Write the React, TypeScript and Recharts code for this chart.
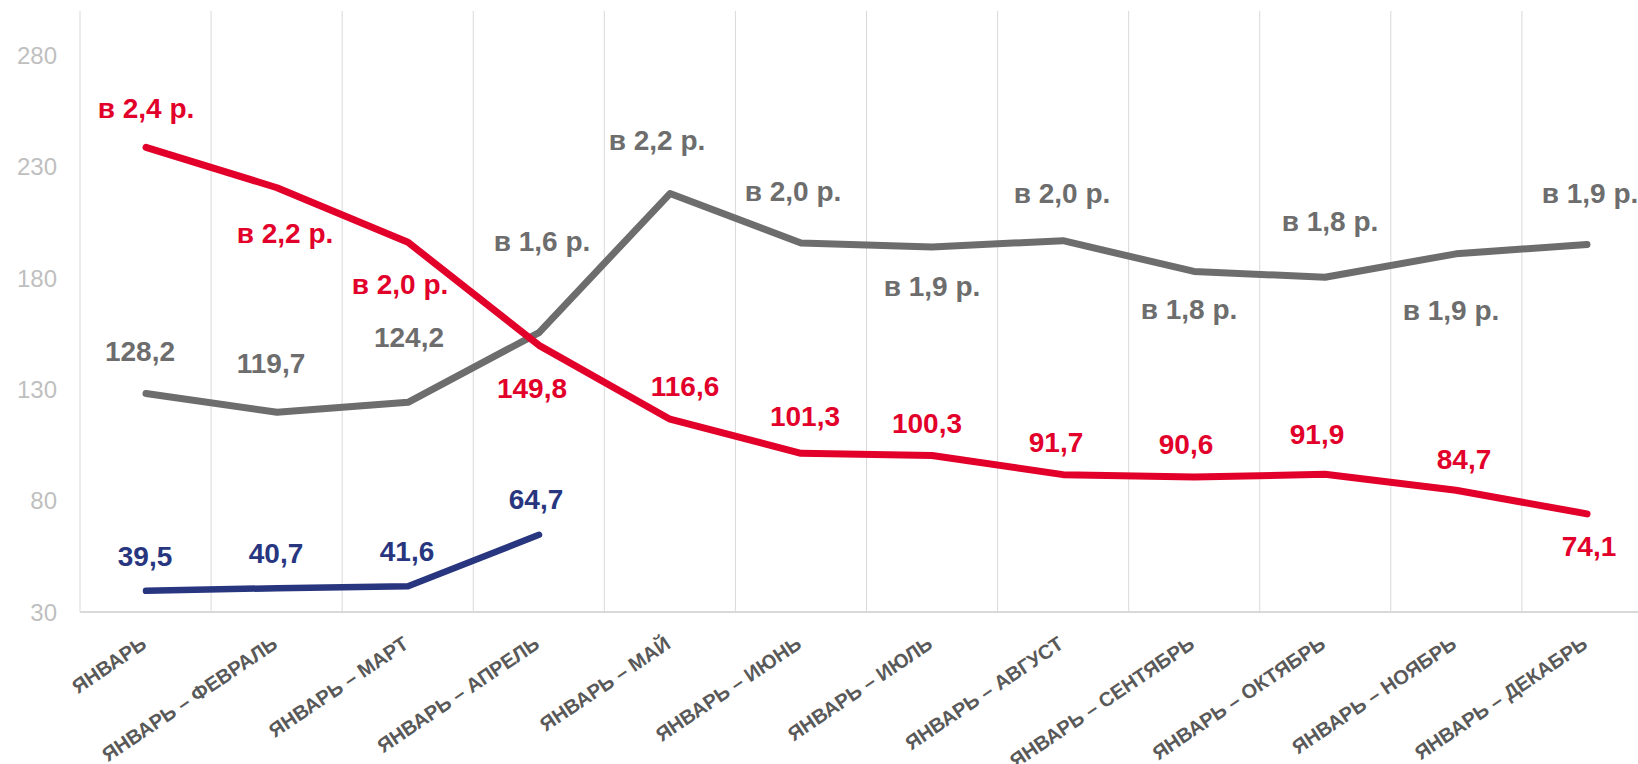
import { LineChart, Line, XAxis, YAxis, CartesianGrid, LabelList } from "recharts"

const categories = [
  "ЯНВАРЬ",
  "ЯНВАРЬ – ФЕВРАЛЬ",
  "ЯНВАРЬ – МАРТ",
  "ЯНВАРЬ – АПРЕЛЬ",
  "ЯНВАРЬ – МАЙ",
  "ЯНВАРЬ – ИЮНЬ",
  "ЯНВАРЬ – ИЮЛЬ",
  "ЯНВАРЬ – АВГУСТ",
  "ЯНВАРЬ – СЕНТЯБРЬ",
  "ЯНВАРЬ – ОКТЯБРЬ",
  "ЯНВАРЬ – НОЯБРЬ",
  "ЯНВАРЬ – ДЕКАБРЬ",
]

const redValues = [238.7, 220.6, 196.1, 149.8, 116.6, 101.3, 100.3, 91.7, 90.6, 91.9, 84.7, 74.1]
const grayValues = [128.2, 119.7, 124.2, 155.5, 218, 195.8, 194, 196.8, 183, 180.4, 190.9, 195.1]
const blueValues = [39.5, 40.7, 41.6, 64.7]

const redLabels = ["в 2,4 р.", "в 2,2 р.", "в 2,0 р.", "149,8", "116,6", "101,3", "100,3", "91,7", "90,6", "91,9", "84,7", "74,1"]
const grayLabels = ["128,2", "119,7", "124,2", "в 1,6 р.", "в 2,2 р.", "в 2,0 р.", "в 1,9 р.", "в 2,0 р.", "в 1,8 р.", "в 1,8 р.", "в 1,9 р.", "в 1,9 р."]
const blueLabels = ["39,5", "40,7", "41,6", "64,7"]

const yTicks = [30, 80, 130, 180, 230, 280]

// label placement relative to the point (dx, dy)
const redOffsets = [[0, -39], [8, 46], [-8, 42], [-7, 43], [15, -33], [4, -37], [-5, -32], [-7, -32], [-8, -33], [-8, -40], [8, -31], [2, 33]]
const grayOffsets = [[-6, -42], [-6, -49], [1, -65], [3, -91], [-13, -53], [-8, -51], [0, 40], [-1, -47], [-5, 38], [5, -56], [-5, 57], [3, -51]]
const blueOffsets = [[-1, -34], [-1, -35], [-1, -35], [-3, -35]]

const RED = "#E2002B"
const GRAY = "#6D6D6D"
const BLUE = "#28367F"
const FONT = "'Liberation Sans', Arial, sans-serif"

const data = categories.map((name, i) => ({
  name,
  red: redValues[i],
  gray: grayValues[i],
  blue: i < blueValues.length ? blueValues[i] : null,
}))

function makeLabel(texts: string[], offsets: number[][], color: string) {
  return (props: any) => {
    const index = props.index
    const x = props.x ?? props.viewBox?.x
    const y = props.y ?? props.viewBox?.y
    if (x == null || y == null || texts[index] == null) return null
    const [dx, dy] = offsets[index]
    return (
      <text
        x={x + dx}
        y={y + dy}
        textAnchor="middle"
        dominantBaseline="central"
        fill={color}
        fontSize={28}
        fontWeight="bold"
        fontFamily={FONT}
      >
        {texts[index]}
      </text>
    )
  }
}

function CategoryTick(props: any) {
  const { x, y, payload } = props
  return (
    <g transform={`translate(${x},${y})`}>
      <text
        x={2}
        y={27}
        textAnchor="end"
        transform="rotate(-34, 2, 27)"
        fill="#595959"
        fontSize={20}
        fontWeight="bold"
        fontFamily={FONT}
      >
        {payload.value}
      </text>
    </g>
  )
}

export default function App() {
  return (
    <div
      style={{
        position: "fixed",
        top: 0,
        left: 0,
        width: 1638,
        height: 764,
        overflow: "hidden",
        background: "#fff",
      }}
    >
      <LineChart
        width={1660}
        height={764}
        data={data}
        margin={{ top: 11, right: 7, bottom: 0, left: 0 }}
      >
        <CartesianGrid
          horizontal={false}
          stroke="#D9D9D9"
          verticalCoordinatesGenerator={({ offset }: any) =>
            categories.map((_, k) => offset.left + (k * offset.width) / categories.length)
          }
        />
        <XAxis
          dataKey="name"
          interval={0}
          padding={{ left: 66, right: 66 }}
          height={152}
          tickLine={false}
          axisLine={{ stroke: "#D9D9D9", strokeWidth: 2 }}
          tick={<CategoryTick />}
        />
        <YAxis
          domain={[30, 300]}
          ticks={yTicks}
          width={80}
          axisLine={false}
          tickLine={false}
          tickMargin={17}
          tick={{ fill: "#BFBFBF", fontSize: 24, fontFamily: FONT }}
        />
        <Line
          dataKey="gray"
          stroke={GRAY}
          strokeWidth={7}
          strokeLinecap="round"
          strokeLinejoin="round"
          dot={false}
          activeDot={false}
          isAnimationActive={false}
        >
          <LabelList dataKey="gray" content={makeLabel(grayLabels, grayOffsets, GRAY)} />
        </Line>
        <Line
          dataKey="red"
          stroke={RED}
          strokeWidth={7}
          strokeLinecap="round"
          strokeLinejoin="round"
          dot={false}
          activeDot={false}
          isAnimationActive={false}
        >
          <LabelList dataKey="red" content={makeLabel(redLabels, redOffsets, RED)} />
        </Line>
        <Line
          dataKey="blue"
          stroke={BLUE}
          strokeWidth={6.5}
          strokeLinecap="round"
          strokeLinejoin="round"
          dot={false}
          activeDot={false}
          isAnimationActive={false}
        >
          <LabelList dataKey="blue" content={makeLabel(blueLabels, blueOffsets, BLUE)} />
        </Line>
      </LineChart>
    </div>
  )
}
